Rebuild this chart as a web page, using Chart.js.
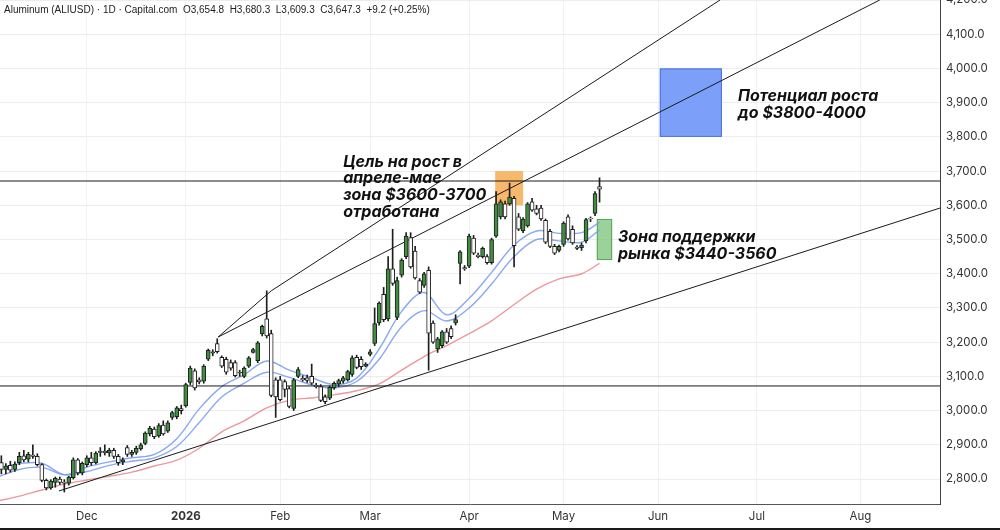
<!DOCTYPE html>
<html>
<head>
<meta charset="utf-8">
<script src="https://cdn.jsdelivr.net/npm/chart.js@4.4.1/dist/chart.umd.min.js"></script>
<style>
  html, body { margin: 0; padding: 0; background: #fff; }
  canvas { display: block; }
</style>
</head>
<body>
<canvas id="chart" width="1000" height="530"></canvas>
<script>
// daily candles, bar index 0 = 3 Nov 2025, last = 13 May 2026
const candleOpen = [2860,2848,2828,2840,2828,2848,2868,2858,2870,2866,2842,2796,2774,2790,2800,2790,2788,2804,2856,2818,
  2842,2862,2848,2878,2882,2876,2884,2866,2850,2892,2872,2878,2888,2904,2932,2946,2926,2958,2940,2980,
  2982,3006,3014,3082,3116,3090,3086,3150,3168,3196,3156,3150,3140,3140,3110,3100,3130,3170,3146,3224,
  3268,3225,3090,3090,3085,3064,3006,3100,3094,3096,3100,3074,3070,3040,3036,3066,3078,3086,3090,3106,
  3156,3150,3130,3164,3196,3256,3340,3268,3414,3272,3396,3450,3506,3466,3380,3366,3410,3256,3180,3190,
  3230,3240,3256,3430,3418,3422,3504,3454,3450,3450,3432,3510,3566,3604,3604,3620,3566,3526,3540,3610,
  3590,3592,3556,3524,3480,3468,3486,3566,3530,3478,3476,3496,3562,3576,3654.8];
const candleHigh = [2885,2868,2845,2852,2850,2878,2884,2878,2900,2874,2845,2800,2798,2806,2806,2798,2808,2862,2860,2850,
  2868,2878,2880,2892,2900,2890,2890,2872,2862,2898,2884,2896,2905,2938,2954,2952,2962,2970,2970,2998,
  3012,3016,3080,3130,3122,3096,3134,3180,3178,3210,3160,3156,3148,3146,3118,3128,3158,3182,3202,3250,
  3350,3235,3096,3100,3090,3070,3094,3126,3102,3104,3136,3080,3076,3046,3072,3084,3092,3100,3118,3160,
  3162,3158,3140,3178,3300,3318,3360,3450,3530,3390,3444,3520,3520,3480,3386,3404,3420,3262,3214,3234,
  3240,3248,3280,3468,3424,3516,3512,3460,3478,3456,3504,3640,3616,3612,3665,3626,3576,3564,3608,3620,
  3600,3600,3560,3530,3486,3484,3552,3572,3540,3482,3490,3562,3566,3640,3680.3];
const candleLow = [2835,2815,2815,2820,2822,2842,2850,2850,2860,2838,2792,2768,2770,2776,2784,2762,2782,2800,2812,2812,
  2836,2840,2844,2866,2870,2866,2860,2840,2842,2866,2866,2872,2884,2900,2926,2918,2922,2928,2936,2974,
  2976,2990,3010,3076,3060,3078,3080,3146,3160,3168,3126,3106,3118,3098,3100,3096,3126,3168,3140,3218,
  3212,3040,2980,3028,3040,3008,3000,3096,3086,3082,3076,3066,3026,3020,3032,3062,3070,3080,3086,3100,
  3122,3120,3128,3160,3190,3250,3260,3262,3366,3266,3390,3444,3416,3384,3342,3360,3118,3196,3170,3184,
  3196,3210,3250,3370,3410,3418,3456,3446,3446,3428,3428,3506,3560,3560,3600,3420,3526,3520,3536,3582,
  3572,3556,3488,3476,3456,3464,3480,3498,3486,3470,3468,3490,3552,3570,3609.3];
const candleClose = [2845,2828,2838,2826,2844,2866,2856,2872,2866,2842,2796,2774,2794,2802,2790,2788,2806,2856,2818,2846,
  2862,2848,2876,2882,2876,2884,2866,2848,2856,2872,2878,2890,2900,2934,2948,2924,2956,2932,2964,2994,
  3008,3000,3076,3124,3066,3084,3130,3176,3172,3172,3130,3112,3124,3102,3112,3124,3154,3178,3198,3246,
  3218,3044,3040,3032,3062,3012,3090,3120,3090,3088,3080,3070,3030,3026,3068,3080,3088,3096,3114,3154,
  3126,3128,3136,3172,3254,3314,3266,3414,3372,3380,3440,3510,3420,3388,3346,3400,3226,3200,3210,3230,
  3200,3216,3266,3464,3414,3510,3460,3450,3474,3432,3500,3604,3610,3566,3624,3482,3530,3560,3604,3586,
  3576,3560,3492,3480,3460,3480,3548,3502,3490,3474,3484,3558,3560,3634,3647.3];

// moving averages at these bar indexes
const maIndex = [0,5,10,15,20,25,30,35,40,45,50,55,60,65,70,75,80,85,90,95,100,105,110,115,120,125,130,134];
const maFast = [2830,2845,2846,2813,2835,2850,2862,2872,2918,3005,3070,3105,3145,3118,3096,3076,3095,3180,3290,3345,3280,3328,3404,3484,3525,3518,3520,3550];
const maMid = [2805,2828,2834,2812,2822,2840,2852,2862,2895,2965,3040,3080,3112,3097,3075,3066,3085,3150,3245,3292,3262,3300,3370,3450,3500,3496,3492,3528];
const maSlow = [2735,2750,2768,2785,2797,2808,2820,2838,2855,2890,2938,2970,3008,3030,3037,3046,3058,3078,3118,3158,3190,3225,3262,3310,3355,3385,3400,3430];

// x axis: bar index of each month start
const monthTickIndex = [20, 42, 63, 83, 105, 126, 147, 169, 192];
const monthTickLabel = ['Dec', '2026', 'Feb', 'Mar', 'Apr', 'May', 'Jun', 'Jul', 'Aug'];
const priceTicks = [2800,2900,3000,3100,3200,3300,3400,3500,3600,3700,3800,3900,4000,4100,4200];

// drawn lines: [[index, price], [index, price]]
const drawnLines = [
  [[-5, 3671], [215, 3671]],
  [[-5, 3072], [215, 3072]],
  [[13.8, 2765], [209.7, 3592]],
  [[49.2, 3215], [61, 3350]],
  [[61, 3350], [160.8, 4200]],
  [[49.2, 3215], [196.3, 4200]]
];

// zones: index range and price range
const zones = [
  { from: 110.8, to: 117, low: 3600, high: 3700, fill: 'rgba(246,166,70,0.8)', stroke: null },
  { from: 147.4, to: 161.2, low: 3800, high: 4000, fill: 'rgba(110,150,250,0.9)', stroke: '#4a6fdc' },
  { from: 133.4, to: 136.8, low: 3440, high: 3560, fill: 'rgba(120,195,120,0.75)', stroke: '#5aa65a' }
];

const notes = [
  { at: 164.8, price: 3919, lines: ['Потенциал роста', 'до $3800-4000'] },
  { at: 77, price: 3727, lines: ['Цель на рост в', 'апреле-мае', 'зона $3600-3700', 'отработана'] },
  { at: 138.1, price: 3507, lines: ['Зона поддержки', 'рынка $3440-3560'] }
];

const titleText = 'Aluminum (ALIUSD) · 1D · Capital.com  O3,654.8  H3,680.3  L3,609.3  C3,647.3  +9.2 (+0.25%)';

const bars = candleOpen.map((o, i) => i);
const wickData = bars.map(i => ({ x: i, y: [candleLow[i], candleHigh[i]] }));
const bodyData = bars.map(i => ({ x: i, y: [candleOpen[i], candleClose[i]] }));
const bodyColors = bars.map(i => candleClose[i] >= candleOpen[i] ? '#3f8f3f' : '#ffffff');

function maSet(values, color) {
  return {
    type: 'line',
    data: maIndex.map((x, k) => ({ x: x, y: values[k] })),
    borderColor: color,
    borderWidth: 1.4,
    pointRadius: 0,
    tension: 0.35,
    order: 5
  };
}

const lineSets = drawnLines.map(seg => ({
  type: 'line',
  data: seg.map(p => ({ x: p[0], y: p[1] })),
  borderColor: '#1a1a1a',
  borderWidth: 1,
  pointRadius: 0,
  order: 4
}));

const overlay = {
  id: 'overlay',
  beforeDatasetsDraw(chart) {
    const { ctx, scales: { x, y } } = chart;
    ctx.save();
    zones.forEach(z => {
      const x0 = x.getPixelForValue(z.from), x1 = x.getPixelForValue(z.to);
      const y0 = y.getPixelForValue(z.high), y1 = y.getPixelForValue(z.low);
      ctx.fillStyle = z.fill;
      ctx.fillRect(x0, y0, x1 - x0, y1 - y0);
      if (z.stroke) {
        ctx.strokeStyle = z.stroke;
        ctx.lineWidth = 1;
        ctx.strokeRect(x0 + 0.5, y0 + 0.5, x1 - x0 - 1, y1 - y0 - 1);
      }
    });
    ctx.restore();
  },
  afterDatasetsDraw(chart) {
    const { ctx, scales: { x, y } } = chart;
    ctx.save();
    ctx.fillStyle = '#111';
    ctx.font = 'italic 700 16px Inter, "DejaVu Sans", sans-serif';
    ctx.textBaseline = 'middle';
    notes.forEach(n => {
      const px = x.getPixelForValue(n.at);
      const py = y.getPixelForValue(n.price);
      n.lines.forEach((t, k) => ctx.fillText(t, px, py + k * 16.7));
    });
    ctx.restore();
  },
  afterDraw(chart) {
    const ctx = chart.ctx;
    ctx.save();
    ctx.fillStyle = '#222';
    ctx.font = '10px "Liberation Sans", Arial, sans-serif';
    ctx.textBaseline = 'middle';
    ctx.fillText(titleText, 4, 10);
    // dark frame edge along the bottom of the screenshot
    ctx.fillStyle = '#1a1a1a';
    ctx.fillRect(0, chart.height - 2, chart.width, 2);
    ctx.restore();
  }
};

new Chart(document.getElementById('chart'), {
  type: 'bar',
  data: {
    datasets: [
      { type: 'bar', data: bodyData, backgroundColor: bodyColors, borderColor: '#1e1e1e', borderWidth: 1,
        borderSkipped: false, barThickness: 4, grouped: false, order: 1 },
      { type: 'bar', data: wickData, backgroundColor: '#1e1e1e', barThickness: 1, grouped: false, order: 2 },
      maSet(maFast, 'rgba(125,160,238,0.9)'),
      maSet(maMid, 'rgba(125,160,238,0.9)'),
      maSet(maSlow, 'rgba(232,135,140,0.85)'),
      ...lineSets
    ]
  },
  options: {
    responsive: false,
    animation: false,
    events: [],
    layout: { padding: 0 },
    plugins: { legend: { display: false }, tooltip: { enabled: false } },
    scales: {
      x: {
        type: 'linear',
        offset: false,
        min: 0.7,
        max: 209.7,
        afterBuildTicks: s => { s.ticks = monthTickIndex.map(v => ({ value: v })); },
        afterFit: s => { s.height = 26; s.paddingLeft = 0; s.paddingRight = 0; },
        ticks: {
          autoSkip: false,
          maxRotation: 0,
          padding: 6,
          color: '#333',
          font: c => ({ family: 'Inter, "Liberation Sans", sans-serif', size: 11.5,
            weight: c.tick && c.tick.value === 42 ? 'bold' : 'normal' }),
          callback: v => monthTickLabel[monthTickIndex.indexOf(v)]
        },
        grid: { color: '#f1f1f1', drawTicks: false, offset: false },
        border: { color: '#555' }
      },
      y: {
        type: 'linear',
        position: 'right',
        min: 2727,
        max: 4200,
        afterBuildTicks: s => { s.ticks = priceTicks.map(v => ({ value: v })); },
        afterFit: s => { s.width = 60; s.paddingTop = 0; s.paddingBottom = 0; },
        ticks: {
          padding: 6,
          color: '#333',
          font: { family: 'Inter, "Liberation Sans", sans-serif', size: 11.5 },
          callback: v => v.toLocaleString('en-US', { minimumFractionDigits: 1, maximumFractionDigits: 1 })
        },
        grid: { color: '#ececec', drawTicks: false },
        border: { color: '#444' }
      }
    }
  },
  plugins: [overlay]
});
</script>
</body>
</html>
